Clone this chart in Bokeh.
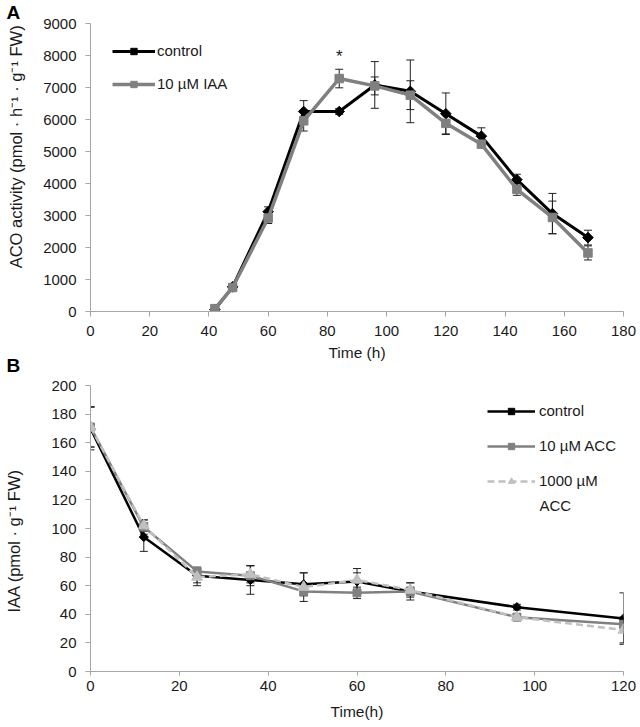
from bokeh.plotting import figure
from bokeh.models import (Range1d, Whisker, ColumnDataSource, Legend, LegendItem,
                          Label, FixedTicker, TeeHead, Title)
from bokeh.layouts import column
from bokeh.embed import file_html
from bokeh.resources import INLINE
from bokeh.core.properties import value

# ---------------- Panel A data ----------------
time_a = [42, 48, 60, 72, 84, 96, 108, 120, 132, 144, 156, 168]
aco_control = [60, 770, 3120, 6250, 6250, 7080, 6880, 6180, 5480, 4120, 3060, 2310]
aco_control_err = [40, 80, 150, 340, 90, 730, 980, 650, 260, 170, 630, 230]
aco_iaa = [90, 750, 2920, 5960, 7280, 7050, 6760, 5880, 5230, 3820, 2940, 1830]
aco_iaa_err = [40, 60, 170, 320, 290, 280, 450, 330, 110, 190, 510, 220]
ticks_a_x = list(range(0, 181, 20))
ticks_a_y = list(range(0, 9001, 1000))

# ---------------- Panel B data ----------------
time_b = [0, 12, 24, 36, 48, 60, 72, 96, 120]
iaa_control = [170, 94, 67, 64, 61, 63, 56, 45, 37]
iaa_control_err = [15, 10, 5, 10, 8, 6, 6, 2, 18]
iaa_acc10 = [171, 101, 70, 67, 56, 55, 56, 38, 33]
iaa_acc10_err = [14, 5, 3, 7, 3, 4, 3, 2, 3]
iaa_acc1000 = [171, 102, 66, 68, 59, 64, 57, 38, 29]
iaa_acc1000_err = [14, 4, 6, 6, 10, 8, 5, 2, 9]
ticks_b_x = list(range(0, 121, 20))
ticks_b_y = list(range(0, 201, 20))

FONT = "Liberation Sans"
AXIS_GRAY = "#a6a6a6"
TXT = "#1a1a1a"
BLACK = "#000000"
MID = "#808080"
LIGHT = "#c0c0c0"
EM = "\u2003"
EN = "\u2002"


def style(p, xt, yt):
    for ax in (p.xaxis[0], p.yaxis[0]):
        ax.axis_line_color = AXIS_GRAY
        ax.axis_line_width = 1
        ax.major_tick_line_color = AXIS_GRAY
        ax.major_tick_in = 0
        ax.major_tick_out = 5
        ax.minor_tick_line_color = None
        ax.major_label_text_font = FONT
        ax.major_label_text_font_size = "15px"
        ax.major_label_text_color = TXT
        ax.axis_label_text_font = FONT
        ax.axis_label_text_font_size = "15.5px"
        ax.axis_label_text_font_style = "normal"
        ax.axis_label_text_color = TXT
    p.yaxis[0].axis_label_text_font_size = "16.5px"
    p.xaxis[0].ticker = FixedTicker(ticks=xt)
    p.yaxis[0].ticker = FixedTicker(ticks=yt)
    p.yaxis[0].major_label_standoff = 9
    p.xgrid.grid_line_color = None
    p.ygrid.grid_line_color = None
    p.outline_line_color = None
    p.background_fill_color = "white"
    p.border_fill_color = "white"


def errbars(p, x, y, e, color="#222222"):
    src = ColumnDataSource(dict(x=x, lo=[a - b for a, b in zip(y, e)],
                                hi=[a + b for a, b in zip(y, e)]))
    w = Whisker(source=src, base="x", lower="lo", upper="hi",
                line_color=color, line_width=1,
                upper_head=TeeHead(size=8, line_color=color, line_width=1),
                lower_head=TeeHead(size=8, line_color=color, line_width=1))
    p.add_layout(w)


def panel_title(text, standoff):
    return Title(text=text, align="left", vertical_align="top", offset=-84,
                 standoff=standoff, text_font=FONT, text_font_style="bold",
                 text_font_size="19px", text_color=BLACK, text_line_height=1.0)


# ================= Figure A =================
pa = figure(width=640, height=375, output_backend="svg", toolbar_location=None,
            x_range=Range1d(0, 180), y_range=Range1d(0, 9000),
            min_border_left=90, min_border_right=17, min_border_top=23,
            min_border_bottom=64,
            x_axis_label="Time (h)",
            y_axis_label=EM * 2 + EN + "ACO activity (pmol · h\u207b\u00b9 · g\u207b\u00b9 FW)")
style(pa, ticks_a_x, ticks_a_y)
pa.xaxis[0].major_label_standoff = 9
pa.xaxis[0].axis_label_standoff = 5
pa.yaxis[0].axis_label_standoff = 15

errbars(pa, time_a, aco_control, aco_control_err)
errbars(pa, time_a, aco_iaa, aco_iaa_err)

la1 = pa.line(time_a, aco_control, line_color=BLACK, line_width=3)
sa1 = pa.scatter(time_a, aco_control, marker="square", angle=0.785398, size=7.5,
                 fill_color=BLACK, line_color=BLACK)
la2 = pa.line(time_a, aco_iaa, line_color=MID, line_width=3.5)
sa2 = pa.scatter(time_a, aco_iaa, marker="square", size=8.5,
                 fill_color=MID, line_color=MID)

# significance asterisk above the 84 h IAA point
sig_i = time_a.index(84)
pa.text(x=[time_a[sig_i]], y=[aco_iaa[sig_i] + aco_iaa_err[sig_i] + 110], text=["*"],
        text_font=value(FONT), text_font_size="17px", text_align="center",
        text_baseline="bottom", text_color=TXT)

leg_a = Legend(items=[LegendItem(label="control", renderers=[la1, sa1]),
                      LegendItem(label="10 µM IAA", renderers=[la2, sa2])],
               location=(22, 219), padding=0, margin=0, spacing=16,
               glyph_width=43, glyph_height=16, label_standoff=2,
               border_line_color=None, background_fill_alpha=0,
               label_text_font=FONT, label_text_font_size="15px",
               label_text_color=TXT)
pa.add_layout(leg_a)
pa.add_layout(panel_title("A", -3), "above")
pa.add_layout(panel_title("B", -17), "below")

# ================= Figure B =================
pb = figure(width=640, height=352, output_backend="svg", toolbar_location=None,
            x_range=Range1d(0, 120), y_range=Range1d(0, 200),
            min_border_left=90, min_border_right=17, min_border_top=10,
            min_border_bottom=56,
            x_axis_label="Time(h)",
            y_axis_label="IAA (pmol · g\u207b\u00b9 FW)" + EM + EN)
style(pb, ticks_b_x, ticks_b_y)
pb.xaxis[0].major_tick_out = 4
pb.xaxis[0].major_label_standoff = 5
pb.xaxis[0].axis_label_standoff = 9
pb.yaxis[0].axis_label_standoff = 25

errbars(pb, time_b, iaa_control, iaa_control_err)
errbars(pb, time_b, iaa_acc10, iaa_acc10_err)
errbars(pb, time_b, iaa_acc1000, iaa_acc1000_err)

lb1 = pb.line(time_b, iaa_control, line_color=BLACK, line_width=2.5)
sb1 = pb.scatter(time_b, iaa_control, marker="square", angle=0.785398, size=6.5,
                 fill_color=BLACK, line_color=BLACK)
lb2 = pb.line(time_b, iaa_acc10, line_color=MID, line_width=2.5)
sb2 = pb.scatter(time_b, iaa_acc10, marker="square", size=8,
                 fill_color=MID, line_color=MID)
lb3 = pb.line(time_b, iaa_acc1000, line_color=LIGHT, line_width=2.5, line_dash="7 4")
sb3 = pb.scatter(time_b, iaa_acc1000, marker="triangle", size=11,
                 fill_color=LIGHT, line_color=LIGHT)

leg_b = Legend(items=[LegendItem(label="control", renderers=[lb1, sb1]),
                      LegendItem(label="10 µM ACC", renderers=[lb2, sb2]),
                      LegendItem(label="1000 µM", renderers=[lb3, sb3])],
               location=(397, 182), padding=0, margin=0, spacing=18,
               glyph_width=48, glyph_height=16, label_standoff=4,
               border_line_color=None, background_fill_alpha=0,
               label_text_font=FONT, label_text_font_size="15px",
               label_text_color=TXT)
pb.add_layout(leg_b)
# second line of the third legend label
pb.add_layout(Label(x=449, y=166, x_units="screen", y_units="screen", text="ACC",
                    text_font=FONT, text_font_size="15px", text_color=TXT,
                    text_baseline="middle"))

layout = column(pa, pb, spacing=0)
open("out.html", "w").write(file_html(layout, INLINE))
